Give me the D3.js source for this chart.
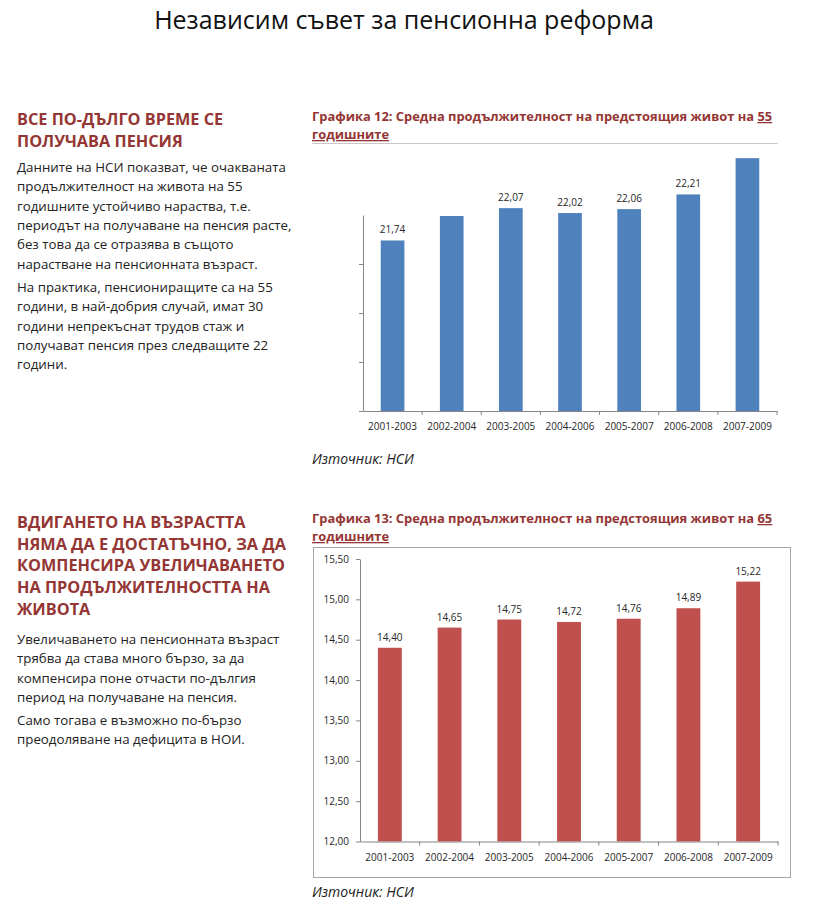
<!DOCTYPE html>
<html>
<head>
<meta charset="utf-8">
<script src="https://cdn.jsdelivr.net/npm/d3@7"></script>
<style>
  html, body { margin: 0; padding: 0; background: #fff; }
  svg { display: block; }
</style>
</head>
<body>
<script>
// ---------- DATA ----------
const categories = ["2001-2003", "2002-2004", "2003-2005", "2004-2006", "2005-2007", "2006-2008", "2007-2009"];
const values55 = [21.74, 21.99, 22.07, 22.02, 22.06, 22.21, 22.58];
const showLabel55 = [true, false, true, true, true, true, false];
const ticks55 = [20, 20.5, 21, 21.5];
const values65 = [14.40, 14.65, 14.75, 14.72, 14.76, 14.89, 15.22];
const ticks65 = [12, 12.5, 13, 13.5, 14, 14.5, 15, 15.5];

const pageTitle = "Независим съвет за пенсионна реформа";
const heading1 = ["ВСЕ ПО-ДЪЛГО ВРЕМЕ СЕ", "ПОЛУЧАВА ПЕНСИЯ"];
const body1a = ["Данните на НСИ показват, че очакваната", "продължителност на живота на 55", "годишните устойчиво нараства, т.е.", "периодът на получаване на пенсия расте,", "без това да се отразява в същото", "нарастване на пенсионната възраст."];
const body1b = ["На практика, пенсиониращите са на 55", "години, в най-добрия случай, имат 30", "години непрекъснат трудов стаж и", "получават пенсия през следващите 22", "години."];
const heading2 = ["ВДИГАНЕТО НА ВЪЗРАСТТА", "НЯМА ДА Е ДОСТАТЪЧНО, ЗА ДА", "КОМПЕНСИРА УВЕЛИЧАВАНЕТО", "НА ПРОДЪЛЖИТЕЛНОСТТА НА", "ЖИВОТА"];
const body2a = ["Увеличаването на пенсионната възраст", "трябва да става много бързо, за да", "компенсира поне отчасти по-дългия", "период на получаване на пенсия."];
const body2b = ["Само тогава е възможно по-бързо", "преодоляване на дефицита в НОИ."];
const chart12Title = ["Графика 12: Средна продължителност на предстоящия живот на ", "55", "годишните"];
const chart13Title = ["Графика 13: Средна продължителност на предстоящия живот на ", "65", "годишните"];
const sourceText = "Източник: НСИ";

// ---------- STYLE ----------
const FONT = "'Open Sans', 'Noto Sans', 'DejaVu Sans', sans-serif";
const RED_TEXT = "#943634";
const BLUE = "#4F81BD";
const RED = "#C0504D";
const AXIS = "#868686";
const LABEL = "#262626";
const fmt = v => d3.format(".2f")(v).replace(".", ",");

const W = 815, H = 923;
const svg = d3.select("body").append("svg").attr("width", W).attr("height", H)
  .style("font-family", FONT);
svg.append("rect").attr("width", W).attr("height", H).attr("fill", "#fff");

// Page title
svg.append("text").attr("x", 404).attr("y", 29).attr("text-anchor", "middle")
  .attr("font-size", 25).attr("fill", "#111").text(pageTitle);

// Left column text
function lines(arr, x, y0, dy, size, weight, color) {
  arr.forEach((t, i) => {
    svg.append("text").attr("x", x).attr("y", y0 + i * dy)
      .attr("font-size", size).attr("font-weight", weight).attr("fill", color).text(t);
  });
}
lines(heading1, 17, 125, 21.5, 16.3, 700, RED_TEXT);
lines(body1a, 17, 172, 19.3, 13.3, 400, "#222");
lines(body1b, 17, 292, 19.3, 13.3, 400, "#222");
lines(heading2, 17, 528, 21.7, 16.3, 700, RED_TEXT);
lines(body2a, 17, 644, 19.3, 13.3, 400, "#222");
lines(body2b, 17, 725, 19.3, 13.3, 400, "#222");

// Chart titles
function chartTitle(parts, y) {
  const t1 = svg.append("text").attr("x", 312).attr("y", y)
    .attr("font-size", 12.9).attr("font-weight", 700).attr("fill", RED_TEXT);
  t1.append("tspan").text(parts[0]);
  t1.append("tspan").attr("text-decoration", "underline").text(parts[1]);
  svg.append("text").attr("x", 312).attr("y", y + 18)
    .attr("font-size", 12.9).attr("font-weight", 700).attr("fill", RED_TEXT)
    .attr("text-decoration", "underline").text(parts[2]);
}
chartTitle(chart12Title, 121);
chartTitle(chart13Title, 523);

// ---------- CHART 12 (55-year-olds) ----------
svg.append("line").attr("x1", 312).attr("x2", 778).attr("y1", 143.5).attr("y2", 143.5)
  .attr("stroke", "#c8c8c8").attr("stroke-width", 1);

const x12 = d3.scaleBand().domain(categories).range([363, 777]).paddingInner(0.6).paddingOuter(0.3);
const y12 = d3.scaleLinear().domain([20, 22]).range([411, 215]);

const g12 = svg.append("g");
g12.selectAll("rect.bar").data(values55).join("rect").attr("class", "bar")
  .attr("x", (d, i) => x12(categories[i])).attr("width", x12.bandwidth())
  .attr("y", d => y12(d)).attr("height", d => y12(20) - y12(d)).attr("fill", BLUE);

const yAx12 = g12.append("g").attr("transform", "translate(363,0)")
  .call(d3.axisLeft(y12).tickValues(ticks55).tickSize(4).tickSizeOuter(0).tickFormat(""));
yAx12.select(".domain").attr("stroke", AXIS);
yAx12.selectAll(".tick line").attr("stroke", AXIS);

const xAx12 = g12.append("g").attr("transform", "translate(0,411)")
  .call(d3.axisBottom(x12).tickSize(0).tickSizeOuter(0).tickPadding(12));
xAx12.select(".domain").attr("stroke", AXIS);
xAx12.selectAll(".tick text").attr("font-size", 10).attr("fill", LABEL).attr("font-family", FONT);
g12.selectAll("line.bt").data(categories).join("line").attr("class", "bt")
  .attr("x1", d => x12(d) + x12.bandwidth() + x12.step() * 0.3)
  .attr("x2", d => x12(d) + x12.bandwidth() + x12.step() * 0.3)
  .attr("y1", 411).attr("y2", 415).attr("stroke", AXIS);

g12.selectAll("text.val").data(values55.map((v, i) => ({ v, i })).filter(d => showLabel55[d.i]))
  .join("text").attr("class", "val")
  .attr("x", d => x12(categories[d.i]) + x12.bandwidth() / 2).attr("y", d => y12(d.v) - 7)
  .attr("text-anchor", "middle").attr("font-size", 10).attr("fill", LABEL).text(d => fmt(d.v));

svg.append("text").attr("x", 312).attr("y", 464).attr("font-size", 14).attr("font-style", "italic")
  .attr("fill", "#222").text(sourceText);

// ---------- CHART 13 (65-year-olds) ----------
svg.append("rect").attr("x", 313.5).attr("y", 547.5).attr("width", 477).attr("height", 330)
  .attr("fill", "none").attr("stroke", "#a6a6a6").attr("stroke-width", 1);

const x13 = d3.scaleBand().domain(categories).range([360, 778]).paddingInner(0.6).paddingOuter(0.3);
const y13 = d3.scaleLinear().domain([12, 15.5]).range([841.5, 559]);

const g13 = svg.append("g");
g13.selectAll("rect.bar").data(values65).join("rect").attr("class", "bar")
  .attr("x", (d, i) => x13(categories[i])).attr("width", x13.bandwidth())
  .attr("y", d => y13(d)).attr("height", d => y13(12) - y13(d)).attr("fill", RED);

const yAx13 = g13.append("g").attr("transform", "translate(360,0)")
  .call(d3.axisLeft(y13).tickValues(ticks65).tickSize(4).tickSizeOuter(0).tickPadding(7).tickFormat(fmt));
yAx13.select(".domain").attr("stroke", AXIS);
yAx13.selectAll(".tick line").attr("stroke", AXIS);
yAx13.selectAll(".tick text").attr("font-size", 10).attr("fill", LABEL).attr("font-family", FONT);

const xAx13 = g13.append("g").attr("transform", "translate(0,841.5)")
  .call(d3.axisBottom(x13).tickSize(0).tickSizeOuter(0).tickPadding(12));
xAx13.select(".domain").attr("stroke", AXIS);
xAx13.selectAll(".tick text").attr("font-size", 10).attr("fill", LABEL).attr("font-family", FONT);
g13.selectAll("line.bt").data(categories).join("line").attr("class", "bt")
  .attr("x1", d => x13(d) + x13.bandwidth() + x13.step() * 0.3)
  .attr("x2", d => x13(d) + x13.bandwidth() + x13.step() * 0.3)
  .attr("y1", 841.5).attr("y2", 845.5).attr("stroke", AXIS);

g13.selectAll("text.val").data(values65).join("text").attr("class", "val")
  .attr("x", (d, i) => x13(categories[i]) + x13.bandwidth() / 2).attr("y", d => y13(d) - 7)
  .attr("text-anchor", "middle").attr("font-size", 10).attr("fill", LABEL).text(d => fmt(d));

svg.append("text").attr("x", 312).attr("y", 897).attr("font-size", 14).attr("font-style", "italic")
  .attr("fill", "#222").text(sourceText);
</script>
</body>
</html>
